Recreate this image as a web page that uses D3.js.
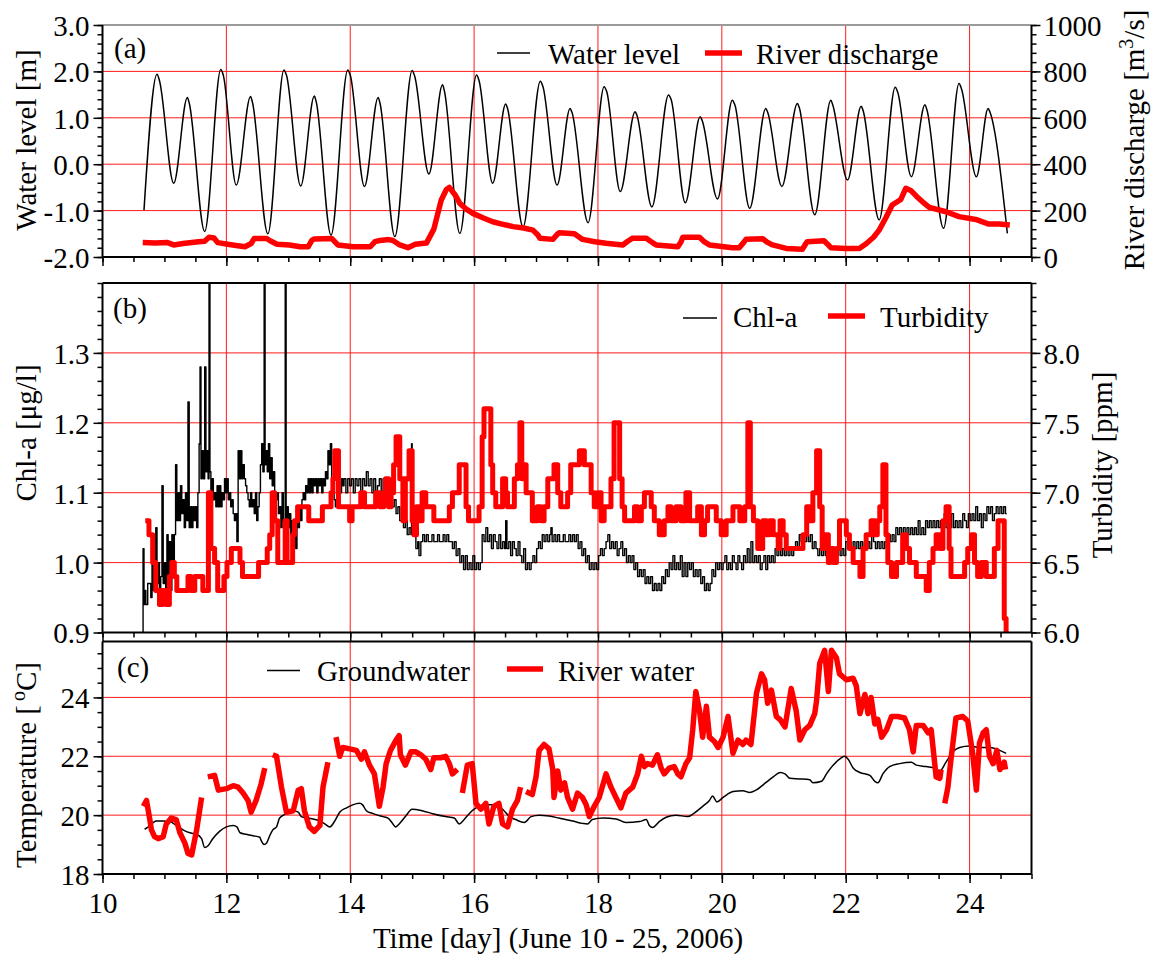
<!DOCTYPE html>
<html>
<head>
<meta charset="utf-8">
<script src="https://cdn.jsdelivr.net/npm/d3@7"></script>
<style>
  html, body { margin: 0; padding: 0; background: #fff; }
  svg { display: block; }
</style>
</head>
<body>
<svg id="chart" width="1155" height="956"></svg>
<script>
// ---- data: day of June 2006 ----
const waterLevel = [
  [10.67,-0.99],[10.88,1.94],[10.92,1.80],[11.15,-0.41],[11.37,1.44],[11.40,1.32],[11.65,-1.45],
  [11.91,2.04],[11.95,1.92],[12.16,-0.45],[12.39,1.46],[12.42,1.34],[12.67,-1.50],[12.93,2.03],
  [12.97,1.92],[13.20,-0.47],[13.42,1.47],[13.45,1.35],[13.69,-1.53],[13.96,2.03],[14.00,1.92],
  [14.23,-0.48],[14.45,1.44],[14.48,1.32],[14.72,-1.56],[15.00,2.02],[15.04,1.90],[15.27,-0.21],
  [15.49,1.71],[15.52,1.58],[15.77,-1.49],[16.04,1.92],[16.08,1.80],[16.30,-0.41],[16.51,1.30],
  [16.54,1.20],[16.79,-1.35],[17.07,1.79],[17.11,1.68],[17.34,-0.45],[17.55,1.20],[17.58,1.12],
  [17.84,-1.26],[18.10,1.67],[18.14,1.57],[18.36,-0.59],[18.60,1.13],[18.63,1.05],[18.87,-0.92],
  [19.14,1.49],[19.18,1.40],[19.41,-0.83],[19.65,1.02],[19.68,0.95],[19.93,-0.75],[20.17,1.38],
  [20.21,1.28],[20.45,-0.95],[20.71,1.20],[20.74,1.12],[20.97,-0.48],[21.22,1.31],[21.25,1.22],
  [21.50,-1.09],[21.76,1.38],[21.79,1.28],[22.03,-0.34],[22.25,1.25],[22.28,1.16],[22.54,-1.20],
  [22.80,1.66],[22.84,1.55],[23.06,-0.27],[23.28,1.28],[23.31,1.18],[23.58,-1.38],[23.83,1.74],
  [23.87,1.62],[24.11,-0.27],[24.30,1.20],[24.33,1.12],[24.61,-1.49]
];

const riverDischarge = [
  [10.65,62],[10.85,60],[11.05,62],[11.15,52],[11.30,58],[11.55,66],[11.65,68],[11.72,85],[11.80,82],
  [11.86,62],[12.10,52],[12.30,44],[12.40,58],[12.45,80],[12.65,80],[12.72,68],[12.82,55],[13.02,52],
  [13.19,44],[13.32,44],[13.38,72],[13.42,78],[13.70,80],[13.80,52],[14.05,44],[14.32,44],[14.40,66],
  [14.45,70],[14.62,75],[14.69,71],[14.80,52],[14.93,40],[15.05,55],[15.23,60],[15.35,120],[15.47,246],
  [15.55,290],[15.60,300],[15.70,265],[15.77,231],[15.88,205],[15.98,188],[16.15,168],[16.30,152],
  [16.45,142],[16.63,131],[16.80,125],[16.95,116],[17.03,95],[17.06,81],[17.27,76],[17.35,100],
  [17.38,105],[17.62,100],[17.70,85],[17.75,76],[17.95,66],[18.13,59],[18.40,52],[18.48,68],[18.56,81],
  [18.78,81],[18.88,62],[18.94,52],[19.29,44],[19.34,65],[19.37,85],[19.64,85],[19.72,65],[19.80,52],
  [20.17,40],[20.28,40],[20.35,62],[20.39,76],[20.66,79],[20.73,64],[20.82,52],[21.04,37],[21.30,33],
  [21.35,55],[21.38,66],[21.65,70],[21.72,52],[21.76,40],[22.00,37],[22.22,37],[22.33,57],[22.45,85],
  [22.54,116],[22.65,170],[22.75,224],[22.89,248],[22.97,296],[23.05,287],[23.15,260],[23.24,238],
  [23.35,214],[23.62,195],[23.83,174],[24.10,162],[24.31,142],[24.48,142],[24.65,138]
];

const chlA = [
  [10.65,0.90],[10.655,1.02],[10.67,0.94],[10.69,0.96],[10.70,0.94],[10.73,0.97],[10.76,0.97],[10.78,0.95],
  [10.80,1.04],[10.82,0.96],[10.84,1.00],[10.86,1.05],[10.88,0.97],[10.90,1.00],[10.92,0.96],[10.94,0.98],
  [10.96,1.11],[10.98,0.97],[11.00,1.00],[11.02,0.95],[11.04,1.04],[11.06,0.97],[11.08,1.03],[11.10,0.96],
  [11.12,1.04],[11.14,1.00],[11.16,1.04],[11.18,1.14],[11.20,1.06],[11.22,1.10],[11.24,1.06],[11.26,1.11],
  [11.28,1.07],[11.30,1.09],[11.32,1.05],[11.34,1.10],[11.36,1.06],[11.38,1.23],[11.40,1.05],[11.42,1.08],
  [11.44,1.05],[11.46,1.08],[11.48,1.06],[11.50,1.08],[11.52,1.05],[11.54,1.10],[11.56,1.17],[11.575,1.28],
  [11.59,1.12],[11.61,1.16],[11.63,1.12],[11.65,1.28],[11.67,1.13],[11.69,1.16],[11.705,1.12],[11.72,1.45],
  [11.735,1.13],[11.75,1.10],[11.77,1.12],[11.79,1.09],[11.81,1.10],[11.83,1.08],[11.85,1.11],[11.87,1.08],
  [11.89,1.11],[11.91,1.08],[11.93,1.10],[11.95,1.09],[11.97,1.12],[11.99,1.10],[12.01,1.12],[12.03,1.09],
  [12.05,1.10],[12.07,1.08],[12.09,1.09],[12.11,1.07],[12.13,1.06],[12.15,1.07],[12.17,1.03],[12.19,1.16],
  [12.21,1.12],[12.23,1.16],[12.25,1.12],[12.27,1.14],[12.29,1.12],[12.31,1.11],[12.33,1.10],[12.35,1.09],
  [12.37,1.08],[12.39,1.10],[12.41,1.08],[12.43,1.09],[12.45,1.07],[12.47,1.10],[12.49,1.06],[12.51,1.08],
  [12.53,1.10],[12.55,1.14],[12.57,1.17],[12.59,1.13],[12.61,1.45],[12.625,1.14],[12.64,1.16],[12.66,1.13],
  [12.68,1.17],[12.70,1.12],[12.72,1.15],[12.74,1.11],[12.76,1.13],[12.78,1.10],[12.80,1.09],[12.82,1.10],
  [12.84,1.07],[12.86,1.08],[12.88,1.05],[12.90,1.10],[12.92,1.06],[12.95,1.45],[12.965,1.04],[12.98,1.08],
  [13.00,1.05],[13.02,1.07],[13.04,1.04],[13.06,1.06],[13.08,1.03],[13.10,1.05],[13.12,1.02],[13.14,1.06],
  [13.16,1.05],[13.18,1.08],[13.20,1.06],[13.22,1.09],[13.24,1.10],[13.26,1.09],[13.28,1.11],[13.30,1.10],
  [13.32,1.12],[13.34,1.10],[13.36,1.12],[13.38,1.10],[13.40,1.12],[13.42,1.11],[13.44,1.12],[13.46,1.10],
  [13.48,1.12],[13.50,1.11],[13.52,1.12],[13.54,1.10],[13.56,1.12],[13.58,1.11],[13.60,1.13],[13.62,1.12],
  [13.64,1.16],[13.66,1.14],[13.68,1.17],[13.70,1.12],[13.72,1.10],[13.74,1.09],[13.76,1.08],[13.78,1.10],
  [13.80,1.09],[13.82,1.11],[13.84,1.10],[13.86,1.12],[13.88,1.11],[13.90,1.12],[13.93,1.10],[13.96,1.12],
  [13.99,1.11],[14.02,1.12],[14.05,1.10],[14.08,1.12],[14.11,1.11],[14.14,1.12],[14.17,1.10],[14.20,1.12],
  [14.23,1.11],[14.26,1.13],[14.29,1.11],[14.32,1.12],[14.35,1.10],[14.38,1.12],[14.41,1.10],[14.44,1.11],
  [14.47,1.12],[14.50,1.10],[14.53,1.12],[14.56,1.10],[14.59,1.11],[14.62,1.09],[14.65,1.11],[14.68,1.08],
  [14.71,1.09],[14.74,1.07],[14.77,1.08],[14.80,1.06],[14.83,1.07],[14.86,1.05],[14.89,1.06],[14.92,1.04],
  [14.95,1.05],[14.98,1.04],[14.99,1.17],[15.00,1.04],[15.03,1.05],[15.06,1.02],[15.09,1.03],[15.11,1.01],
  [15.14,1.03],[15.17,1.04],[15.20,1.03],[15.23,1.04],[15.26,1.03],[15.29,1.03],[15.32,1.04],[15.35,1.03],
  [15.38,1.03],[15.41,1.04],[15.44,1.03],[15.47,1.03],[15.50,1.04],[15.53,1.03],[15.56,1.04],[15.59,1.03],
  [15.62,1.03],[15.65,1.02],[15.68,1.03],[15.71,1.01],[15.74,1.02],[15.77,1.00],[15.80,1.01],[15.83,0.99],
  [15.86,1.01],[15.89,0.99],[15.92,1.00],[15.95,0.99],[15.98,1.01],[16.01,0.99],[16.04,1.00],[16.07,0.99],
  [16.10,1.00],[16.13,1.04],[16.16,1.03],[16.19,1.05],[16.22,1.03],[16.25,1.04],[16.28,1.02],[16.31,1.04],
  [16.34,1.03],[16.37,1.02],[16.40,1.04],[16.43,1.02],[16.46,1.03],[16.49,1.02],[16.51,1.06],[16.53,1.02],
  [16.56,1.03],[16.59,1.01],[16.62,1.03],[16.65,1.02],[16.68,1.01],[16.71,1.03],[16.74,1.01],[16.77,1.00],
  [16.80,1.02],[16.83,0.99],[16.86,1.00],[16.89,0.99],[16.92,1.00],[16.95,1.01],[16.98,1.00],[17.01,1.02],
  [17.04,1.03],[17.07,1.02],[17.10,1.04],[17.13,1.03],[17.16,1.04],[17.19,1.03],[17.22,1.04],[17.24,1.05],
  [17.26,1.03],[17.29,1.04],[17.32,1.03],[17.35,1.04],[17.38,1.03],[17.41,1.03],[17.44,1.04],[17.47,1.03],
  [17.50,1.03],[17.53,1.04],[17.56,1.03],[17.59,1.04],[17.62,1.03],[17.65,1.04],[17.68,1.02],[17.71,1.03],
  [17.74,1.01],[17.77,1.02],[17.80,1.00],[17.83,1.01],[17.86,0.99],[17.89,1.00],[17.92,0.99],[17.95,1.00],
  [17.98,0.99],[18.01,1.01],[18.04,1.02],[18.07,1.01],[18.10,1.02],[18.13,1.03],[18.16,1.04],[18.19,1.02],
  [18.22,1.03],[18.25,1.02],[18.28,1.03],[18.31,1.01],[18.34,1.02],[18.37,1.03],[18.40,1.01],[18.43,1.02],
  [18.46,1.00],[18.49,1.01],[18.52,1.00],[18.55,1.01],[18.58,0.99],[18.61,1.00],[18.64,0.98],[18.67,0.99],
  [18.70,0.98],[18.73,0.99],[18.76,0.97],[18.79,0.98],[18.82,0.97],[18.85,0.98],[18.88,0.96],[18.91,0.97],
  [18.94,0.96],[18.97,0.97],[19.00,0.96],[19.03,0.98],[19.06,0.97],[19.09,0.99],[19.12,0.98],[19.15,1.00],
  [19.18,0.99],[19.21,1.01],[19.24,0.99],[19.27,1.00],[19.30,0.99],[19.33,1.01],[19.36,0.98],[19.39,1.00],
  [19.42,0.98],[19.45,1.00],[19.48,0.99],[19.51,1.00],[19.54,0.98],[19.57,0.99],[19.60,0.98],[19.63,0.99],
  [19.66,0.97],[19.69,0.98],[19.72,0.96],[19.75,0.97],[19.78,0.96],[19.81,0.97],[19.84,0.99],[19.87,0.98],
  [19.90,1.00],[19.93,0.99],[19.96,1.00],[19.99,0.99],[20.02,1.00],[20.05,1.01],[20.08,0.99],[20.11,1.00],
  [20.14,0.99],[20.17,1.01],[20.20,1.00],[20.23,0.99],[20.26,1.01],[20.29,1.00],[20.32,0.99],[20.35,1.01],
  [20.38,1.00],[20.41,1.02],[20.44,1.00],[20.47,1.03],[20.50,1.00],[20.53,1.01],[20.56,1.00],[20.59,1.01],
  [20.62,0.99],[20.65,1.00],[20.68,1.01],[20.71,0.99],[20.74,1.01],[20.77,1.00],[20.80,1.01],[20.83,1.00],
  [20.86,1.02],[20.89,1.01],[20.92,1.02],[20.95,1.01],[20.98,1.02],[21.01,1.01],[21.04,1.02],[21.07,1.01],
  [21.10,1.02],[21.13,1.01],[21.16,1.02],[21.19,1.03],[21.22,1.02],[21.25,1.04],[21.28,1.03],[21.31,1.04],
  [21.34,1.03],[21.37,1.04],[21.40,1.03],[21.43,1.04],[21.46,1.02],[21.49,1.03],[21.52,1.02],[21.55,1.01],
  [21.58,1.02],[21.61,1.01],[21.64,1.03],[21.67,1.01],[21.70,1.02],[21.73,1.01],[21.76,1.02],[21.79,1.01],
  [21.82,1.02],[21.85,1.01],[21.88,1.02],[21.91,1.01],[21.94,1.02],[21.97,1.01],[22.00,1.03],[22.03,1.02],
  [22.06,1.03],[22.09,1.02],[22.12,1.03],[22.15,1.02],[22.18,1.03],[22.21,1.02],[22.24,1.03],[22.27,1.02],
  [22.30,1.03],[22.33,1.02],[22.36,1.03],[22.39,1.02],[22.42,1.04],[22.45,1.03],[22.48,1.02],[22.51,1.03],
  [22.54,1.02],[22.57,1.03],[22.60,1.02],[22.63,1.03],[22.66,1.02],[22.69,1.04],[22.72,1.03],[22.75,1.04],
  [22.78,1.03],[22.81,1.05],[22.84,1.04],[22.87,1.05],[22.90,1.04],[22.93,1.05],[22.96,1.04],[22.99,1.05],
  [23.02,1.04],[23.05,1.05],[23.08,1.04],[23.11,1.05],[23.14,1.04],[23.17,1.06],[23.20,1.04],[23.23,1.05],
  [23.26,1.04],[23.29,1.06],[23.32,1.05],[23.35,1.06],[23.38,1.05],[23.41,1.06],[23.44,1.05],[23.47,1.06],
  [23.50,1.05],[23.53,1.06],[23.56,1.05],[23.59,1.07],[23.62,1.05],[23.65,1.06],[23.68,1.05],[23.71,1.07],
  [23.74,1.05],[23.77,1.06],[23.80,1.05],[23.83,1.06],[23.86,1.05],[23.89,1.07],[23.92,1.06],[23.95,1.05],
  [23.98,1.07],[24.01,1.06],[24.04,1.07],[24.07,1.06],[24.10,1.08],[24.13,1.06],[24.16,1.07],[24.19,1.05],
  [24.22,1.07],[24.25,1.06],[24.28,1.08],[24.31,1.07],[24.34,1.08],[24.37,1.06],[24.40,1.07],[24.43,1.08],
  [24.46,1.07],[24.49,1.08],[24.52,1.07],[24.55,1.08],[24.58,1.07],[24.60,1.07]
];

const turbidity = [
  [10.69,6.8],[10.75,6.7],[10.81,6.5],[10.86,6.3],[10.92,6.2],[10.97,6.3],[11.03,6.2],[11.08,6.4],[11.12,6.5],
  [11.16,6.4],[11.20,6.3],[11.35,6.3],[11.38,6.4],[11.43,6.3],[11.49,6.4],[11.57,6.4],[11.62,6.3],[11.69,6.3],
  [11.71,7.0],[11.75,6.6],[11.81,6.5],[11.86,6.3],[11.92,6.3],[11.96,6.4],[12.01,6.5],[12.08,6.6],[12.17,6.6],
  [12.22,6.5],[12.26,6.4],[12.49,6.4],[12.52,6.5],[12.62,6.5],[12.66,6.6],[12.70,6.7],[12.74,7.0],[12.78,6.8],
  [12.83,6.5],[12.93,6.5],[12.95,6.8],[12.98,6.5],[13.04,6.5],[13.07,6.7],[13.10,6.8],[13.15,6.9],[13.30,6.9],
  [13.33,6.8],[13.51,6.8],[13.55,6.9],[13.65,6.9],[13.69,7.0],[13.72,7.1],[13.75,7.3],[13.81,6.9],[13.95,6.9],
  [13.99,6.8],[14.03,6.9],[14.14,6.9],[14.17,7.0],[14.23,6.9],[14.37,6.9],[14.41,7.0],[14.48,6.9],[14.54,7.0],
  [14.57,7.1],[14.62,6.9],[14.66,7.0],[14.70,7.2],[14.74,7.4],[14.80,7.1],[14.85,6.8],[14.89,7.1],[14.95,7.3],
  [15.00,6.8],[15.03,6.7],[15.07,6.9],[15.11,6.8],[15.16,7.0],[15.22,6.9],[15.30,6.9],[15.35,6.8],[15.54,6.8],
  [15.60,6.9],[15.65,7.0],[15.76,7.2],[15.87,6.9],[15.91,6.8],[16.08,6.9],[16.13,7.4],[16.16,7.6],[16.27,7.2],
  [16.30,7.0],[16.35,6.9],[16.46,7.1],[16.51,7.0],[16.54,6.9],[16.65,7.1],[16.70,7.2],[16.74,7.5],[16.77,7.1],
  [16.80,7.2],[16.84,7.0],[16.94,6.8],[17.02,6.9],[17.08,6.8],[17.13,6.9],[17.19,7.1],[17.29,7.2],[17.35,7.0],
  [17.40,6.9],[17.51,7.0],[17.56,7.2],[17.70,7.3],[17.78,7.2],[17.89,7.0],[17.94,6.9],[17.99,7.0],[18.05,6.8],
  [18.10,6.9],[18.21,7.1],[18.26,7.5],[18.35,7.1],[18.39,6.9],[18.43,6.8],[18.59,6.9],[18.64,6.8],[18.70,6.9],
  [18.75,7.0],[18.86,6.9],[18.91,6.8],[18.99,6.7],[19.07,6.8],[19.13,6.9],[19.18,6.8],[19.26,6.9],[19.34,6.8],
  [19.42,7.0],[19.48,6.8],[19.61,6.9],[19.67,6.7],[19.72,6.8],[19.77,6.9],[19.91,6.8],[19.99,6.7],[20.07,6.8],
  [20.18,6.9],[20.29,6.8],[20.37,6.9],[20.42,7.5],[20.46,6.9],[20.51,6.8],[20.58,6.6],[20.66,6.8],[20.72,6.7],
  [20.77,6.8],[20.83,6.7],[20.91,6.6],[20.94,6.8],[20.99,6.7],[21.04,6.6],[21.31,6.7],[21.37,6.9],[21.42,6.8],
  [21.47,7.0],[21.53,7.3],[21.58,6.9],[21.62,6.6],[21.66,6.7],[21.72,6.5],[21.74,6.6],[21.80,6.5],[21.85,6.6],
  [21.90,6.8],[22.01,6.7],[22.06,6.6],[22.12,6.5],[22.23,6.4],[22.28,6.6],[22.33,6.7],[22.41,6.8],[22.47,6.7],
  [22.51,6.8],[22.55,6.9],[22.60,7.2],[22.65,6.7],[22.68,6.5],[22.74,6.4],[22.82,6.5],[22.92,6.7],[22.98,6.6],
  [23.03,6.5],[23.14,6.4],[23.30,6.3],[23.35,6.5],[23.41,6.6],[23.46,6.7],[23.52,6.6],[23.57,6.8],[23.62,6.9],
  [23.67,6.6],[23.70,6.4],[23.92,6.5],[23.97,6.6],[24.03,6.7],[24.08,6.5],[24.13,6.4],[24.19,6.5],[24.27,6.4],
  [24.40,6.6],[24.46,6.8],[24.56,6.1],[24.59,6.0],[24.61,6.0]
];

const groundwaterTemp = [
  [10.68,19.52],[10.74,19.6],[10.82,19.75],[10.87,19.8],[10.98,19.8],[11.09,19.78],[11.19,19.65],[11.30,19.5],
  [11.41,19.4],[11.52,19.35],[11.60,19.2],[11.65,18.9],[11.70,18.95],[11.78,19.2],[11.89,19.45],[12.0,19.6],
  [12.11,19.65],[12.17,19.6],[12.22,19.4],[12.32,19.35],[12.43,19.3],[12.54,19.25],[12.56,19.15],[12.61,19.0],
  [12.65,19.05],[12.70,19.3],[12.75,19.5],[12.81,19.6],[12.86,19.9],[12.97,20.05],[13.08,20.15],[13.16,20.1],
  [13.21,19.95],[13.32,19.9],[13.43,19.85],[13.51,19.8],[13.59,19.7],[13.67,19.6],[13.75,19.8],[13.83,20.1],
  [13.94,20.25],[14.04,20.35],[14.15,20.4],[14.20,20.35],[14.26,20.15],[14.37,20.05],[14.53,19.95],[14.61,19.9],
  [14.69,19.7],[14.73,19.6],[14.79,19.7],[14.89,19.95],[15.0,20.2],[15.16,20.15],[15.33,20.05],[15.54,19.95],
  [15.68,19.9],[15.76,19.7],[15.84,19.85],[15.92,20.05],[16.03,20.25],[16.19,20.35],[16.32,20.35],[16.46,20.2],
  [16.57,19.95],[16.67,19.85],[16.81,19.75],[16.92,19.95],[17.05,20.0],[17.21,19.97],[17.37,19.9],[17.59,19.8],
  [17.75,19.72],[17.83,19.7],[17.91,19.85],[18.08,19.9],[18.29,19.87],[18.45,19.75],[18.67,19.78],[18.78,19.85],
  [18.83,19.65],[18.88,19.58],[18.99,19.78],[19.10,19.93],[19.26,20.0],[19.45,19.95],[19.56,20.08],[19.69,20.3],
  [19.80,20.5],[19.85,20.65],[19.92,20.45],[20.02,20.6],[20.18,20.8],[20.34,20.83],[20.45,20.77],[20.55,20.85],
  [20.72,21.12],[20.83,21.3],[20.94,21.45],[21.02,21.4],[21.10,21.25],[21.26,21.23],[21.42,21.2],[21.47,21.1],
  [21.61,21.15],[21.69,21.4],[21.80,21.7],[21.90,21.9],[21.98,22.0],[22.04,21.9],[22.12,21.6],[22.23,21.45],
  [22.39,21.35],[22.47,21.15],[22.52,21.1],[22.60,21.4],[22.71,21.65],[22.87,21.75],[23.06,21.8],[23.14,21.7],
  [23.30,21.65],[23.44,21.6],[23.52,21.5],[23.62,21.8],[23.73,22.15],[23.84,22.3],[24.00,22.35],[24.16,22.3],
  [24.32,22.3],[24.43,22.25],[24.59,22.1]
];

// null entries mark gaps in the river-water record
const riverWaterTemp = [
  [10.66,20.3],[10.71,20.5],[10.76,19.9],[10.79,19.5],[10.84,19.27],[10.90,19.2],[10.98,19.27],[11.03,19.7],
  [11.11,19.9],[11.19,19.85],[11.25,19.4],[11.33,19.05],[11.38,18.7],[11.44,18.65],[11.52,19.5],[11.60,20.6],
  [11.65,null],
  [11.70,21.3],[11.81,21.35],[11.87,20.85],[12.0,20.9],[12.11,21.0],[12.19,20.95],[12.27,20.75],[12.35,20.5],
  [12.40,20.1],[12.48,20.5],[12.56,21.05],[12.62,21.6],
  [12.70,null],
  [12.75,22.05],[12.81,22.0],[12.89,20.95],[12.97,20.1],[13.08,20.15],[13.16,20.85],[13.21,20.9],[13.26,20.15],
  [13.34,19.6],[13.42,19.45],[13.51,19.65],[13.56,20.95],[13.64,21.8],
  [13.70,null],
  [13.77,22.65],[13.83,22.0],[13.88,22.3],[13.99,22.25],[14.10,22.2],[14.18,21.9],[14.23,22.15],[14.31,21.7],
  [14.39,21.4],[14.47,20.3],[14.53,20.95],[14.58,21.75],[14.65,22.2],[14.74,22.55],[14.79,22.7],[14.81,22.05],
  [14.89,21.7],[14.98,22.15],[15.06,22.15],[15.14,22.05],[15.22,21.9],[15.30,21.55],[15.35,21.95],[15.46,21.95],
  [15.54,22.0],[15.60,21.75],[15.65,21.4],[15.73,21.55],
  [15.77,null],
  [15.81,20.75],[15.89,21.7],[15.97,21.75],[16.03,20.4],[16.11,20.2],[16.19,20.4],[16.24,19.7],[16.32,20.3],
  [16.40,20.4],[16.46,19.7],[16.54,19.6],[16.62,20.2],[16.70,20.5],[16.75,20.95],
  [16.80,null],
  [16.84,20.8],[16.94,20.7],[17.0,21.3],[17.05,22.2],[17.13,22.4],[17.21,22.25],[17.27,21.55],[17.29,20.6],
  [17.35,21.5],[17.40,20.85],[17.46,21.1],[17.51,20.6],[17.59,20.2],[17.67,20.75],[17.75,20.6],[17.81,20.35],
  [17.86,19.95],[17.94,20.3],[18.02,20.6],[18.13,21.4],[18.21,20.95],[18.29,20.6],[18.37,20.25],[18.45,20.75],
  [18.56,20.95],[18.64,21.4],[18.70,22.0],[18.75,21.65],[18.80,21.75],[18.88,21.7],[18.96,22.05],[19.02,21.6],
  [19.07,21.4],[19.15,21.6],[19.23,21.65],[19.29,21.4],[19.34,21.3],[19.42,21.75],[19.48,21.95],[19.53,22.9],
  [19.58,24.2],[19.64,23.55],[19.69,22.65],[19.75,23.7],[19.80,22.65],[19.88,22.5],[19.94,22.3],[20.02,22.65],
  [20.10,23.35],[20.18,22.1],[20.26,22.55],[20.34,22.4],[20.39,22.55],[20.47,22.4],[20.56,24.15],[20.64,24.8],
  [20.69,24.6],[20.74,23.8],[20.80,24.25],[20.88,23.35],[20.94,23.25],[21.02,23.0],[21.12,24.3],[21.20,23.55],
  [21.26,22.55],[21.34,22.9],[21.42,23.05],[21.50,23.45],[21.53,23.9],[21.58,25.15],[21.66,25.6],[21.72,24.2],
  [21.77,25.6],[21.85,25.35],[21.90,24.8],[22.01,24.6],[22.12,24.65],[22.17,24.4],[22.23,23.45],[22.31,24.1],
  [22.36,23.45],[22.41,24.0],[22.47,23.1],[22.52,23.25],[22.58,22.65],[22.66,22.9],[22.74,23.35],[22.84,23.35],
  [22.95,23.3],[23.03,22.9],[23.09,22.15],[23.14,23.05],[23.25,23.05],[23.33,22.8],[23.38,22.9],[23.46,21.3],
  [23.52,21.25],[23.54,21.55],
  [23.57,null],
  [23.60,20.4],[23.65,20.95],[23.70,21.9],[23.78,23.3],[23.89,23.35],[23.97,23.2],[24.05,22.1],[24.11,20.85],
  [24.16,22.45],[24.22,22.8],[24.27,22.9],[24.32,22.0],[24.38,21.75],[24.44,22.2],[24.49,21.55],[24.56,21.8],
  [24.58,21.55]
];

// ---- tick values ----
const dayMajor = [10, 12, 14, 16, 18, 20, 22, 24];
const dayMinor = d3.range(10, 25.01, 0.5);
const levelMajor = [-2, -1, 0, 1, 2, 3];
const levelMinor = d3.range(-2, 3.001, 0.2);
const dischargeMajor = [0, 200, 400, 600, 800, 1000];
const dischargeMinor = d3.range(0, 1000.1, 40);
const chlMajor = [0.9, 1.0, 1.1, 1.2, 1.3];
const chlMinor = d3.range(0.9, 1.401, 0.02);
const turbMajor = [6.0, 6.5, 7.0, 7.5, 8.0];
const turbMinor = d3.range(6.0, 8.501, 0.1);
const tempMajor = [18, 20, 22, 24];
const tempMinor = d3.range(18, 25.9, 0.5);

// ---- layout ----
const FONT = "'Liberation Serif', 'Times New Roman', serif";
const FS = 29;
const svg = d3.select("#chart");
const left = 102.5, right = 1031.5;
const x = d3.scaleLinear().domain([10, 25]).range([left, right]);

const panels = {
  a: { top: 25, bottom: 257 },
  b: { top: 283, bottom: 632.5 },
  c: { top: 641.5, bottom: 874 }
};

const yLevel = d3.scaleLinear().domain([-2, 3]).range([panels.a.bottom, panels.a.top]);
const yDis = d3.scaleLinear().domain([0, 1000]).range([panels.a.bottom, panels.a.top]);
const yChl = d3.scaleLinear().domain([0.9, 1.4]).range([panels.b.bottom, panels.b.top]);
const yTurb = d3.scaleLinear().domain([6.0, 8.5]).range([panels.b.bottom, panels.b.top]);
const yTemp = d3.scaleLinear().domain([18, 25.9]).range([panels.c.bottom, panels.c.top]);

const defs = svg.append("defs");
Object.entries(panels).forEach(([k, p]) => {
  defs.append("clipPath").attr("id", "clip-" + k)
    .append("rect").attr("x", left).attr("y", p.top)
    .attr("width", right - left).attr("height", p.bottom - p.top);
});

const fmt1 = d => (d < 0 ? "-" : "") + Math.abs(d).toFixed(1);

function grid(p, yScale, yVals) {
  const g = svg.append("g").attr("stroke", "#ff1a1a").attr("stroke-width", 1).attr("fill", "none");
  dayMajor.filter(d => d > 10).forEach(d => {
    g.append("line").attr("x1", x(d)).attr("x2", x(d)).attr("y1", p.top).attr("y2", p.bottom);
  });
  yVals.forEach(v => {
    g.append("line").attr("x1", left).attr("x2", right).attr("y1", yScale(v)).attr("y2", yScale(v));
  });
}

function styleAxis(g, withText) {
  g.select(".domain").remove();
  g.selectAll(".tick line").attr("stroke", "#000").attr("stroke-width", 1.5);
  if (withText) {
    g.selectAll("text").attr("font-family", FONT).attr("font-size", FS).attr("fill", "#000");
  }
}

function yAxis(scale, side, majors, minors, fmt) {
  const make = side === "left" ? d3.axisLeft : d3.axisRight;
  const xpos = side === "left" ? left : right;
  const gMin = svg.append("g").attr("transform", `translate(${xpos},0)`)
    .call(make(scale).tickValues(minors).tickSize(5).tickSizeOuter(0).tickFormat(""));
  styleAxis(gMin, false);
  const gMaj = svg.append("g").attr("transform", `translate(${xpos},0)`)
    .call(make(scale).tickValues(majors).tickSize(9).tickSizeOuter(0).tickPadding(side === "left" ? 4 : 3).tickFormat(fmt));
  styleAxis(gMaj, true);
  gMaj.selectAll("text").attr("dy", "0.36em");
}

function xAxis(p, labels) {
  const gMin = svg.append("g").attr("transform", `translate(0,${p.bottom})`)
    .call(d3.axisBottom(x).tickValues(dayMinor).tickSize(5).tickSizeOuter(0).tickFormat(""));
  styleAxis(gMin, false);
  const gMaj = svg.append("g").attr("transform", `translate(0,${p.bottom})`)
    .call(d3.axisBottom(x).tickValues(dayMajor).tickSize(9).tickSizeOuter(0).tickPadding(9)
      .tickFormat(labels ? d3.format("d") : ""));
  styleAxis(gMaj, labels);
}

function frame(p, topColor) {
  const g = svg.append("g").attr("stroke-width", 2).attr("fill", "none");
  g.append("line").attr("x1", left).attr("x2", right).attr("y1", p.top).attr("y2", p.top)
    .attr("stroke", topColor);
  g.append("line").attr("x1", left).attr("x2", right).attr("y1", p.bottom).attr("y2", p.bottom).attr("stroke", "#000");
  g.append("line").attr("x1", left).attr("x2", left).attr("y1", p.top).attr("y2", p.bottom).attr("stroke", "#000");
  g.append("line").attr("x1", right).attr("x2", right).attr("y1", p.top).attr("y2", p.bottom).attr("stroke", "#000");
}

function plotLine(panelKey, data, yScale, color, width, curve) {
  const line = d3.line()
    .defined(d => d[1] !== null)
    .x(d => x(d[0])).y(d => yScale(d[1]))
    .curve(curve || d3.curveLinear);
  svg.append("path").datum(data)
    .attr("clip-path", `url(#clip-${panelKey})`)
    .attr("fill", "none").attr("stroke", color).attr("stroke-width", width)
    .attr("stroke-linejoin", "round").attr("stroke-linecap", "butt")
    .attr("d", line);
}

function addText(txt, xp, yp, anchor) {
  return svg.append("text").attr("x", xp).attr("y", yp)
    .attr("font-family", FONT).attr("font-size", FS).attr("fill", "#000")
    .attr("text-anchor", anchor || "start").text(txt);
}

function legendItem(x1, x2, ly, color, width, label, tx, ty) {
  svg.append("line").attr("x1", x1).attr("x2", x2).attr("y1", ly).attr("y2", ly)
    .attr("stroke", color).attr("stroke-width", width);
  addText(label, tx, ty);
}

function rotatedLabel(xp, yp, parts) {
  const t = svg.append("text").attr("transform", `translate(${xp},${yp}) rotate(-90)`)
    .attr("font-family", FONT).attr("font-size", FS).attr("fill", "#000")
    .attr("text-anchor", "middle");
  parts.forEach(pt => {
    const s = t.append("tspan").text(pt.t);
    if (pt.sup) s.attr("font-size", 20).attr("dy", -11).attr("dx", pt.dx || 0);
    if (pt.after) s.attr("dy", 11);
  });
}

// ---- panel (a): water level and river discharge ----
grid(panels.a, yLevel, [-1, 0, 1, 2, 3]);
plotLine("a", waterLevel, yLevel, "#000", 1.5, d3.curveMonotoneX);
plotLine("a", riverDischarge, yDis, "#ff0000", 5.5);
frame(panels.a, "#9a9a9a");
yAxis(yLevel, "left", levelMajor, levelMinor, fmt1);
yAxis(yDis, "right", dischargeMajor, dischargeMinor, d3.format("d"));
xAxis(panels.a, false);
addText("(a)", 114, 58);
legendItem(497, 530, 53, "#000", 1.5, "Water level", 548, 63.5);
legendItem(705, 742, 53, "#ff0000", 5.5, "River discharge", 756, 63.5);
rotatedLabel(36, 140, [{ t: "Water level [m]" }]);
rotatedLabel(1144, 140, [{ t: "River discharge [m" }, { t: "3", sup: true }, { t: "/s]", after: true }]);

// ---- panel (b): chlorophyll-a and turbidity ----
grid(panels.b, yChl, [1.0, 1.1, 1.2, 1.3]);
plotLine("b", chlA, yChl, "#000", 1.4, d3.curveStepAfter);
plotLine("b", turbidity, yTurb, "#ff0000", 5, d3.curveStepAfter);
frame(panels.b, "#000");
yAxis(yChl, "left", chlMajor, chlMinor, d => d.toFixed(1));
yAxis(yTurb, "right", turbMajor, turbMinor, d => d.toFixed(1));
xAxis(panels.b, false);
addText("(b)", 113, 318);
legendItem(683, 717, 318, "#000", 1.5, "Chl-a", 733, 327);
legendItem(828, 865, 316, "#ff0000", 5.5, "Turbidity", 880, 327);
rotatedLabel(36, 433, [{ t: "Chl-a [μg/l]" }]);
rotatedLabel(1112, 465, [{ t: "Turbidity [ppm]" }]);

// ---- panel (c): groundwater and river water temperature ----
grid(panels.c, yTemp, [20, 22, 24]);
plotLine("c", groundwaterTemp, yTemp, "#000", 1.5, d3.curveMonotoneX);
plotLine("c", riverWaterTemp, yTemp, "#ff0000", 5.5);
frame(panels.c, "#000");
yAxis(yTemp, "left", tempMajor, tempMinor, d3.format("d"));
xAxis(panels.c, true);
addText("(c)", 117, 677);
legendItem(267, 300, 670.5, "#000", 1.5, "Groundwater", 317, 680.5);
legendItem(507, 543, 669, "#ff0000", 5.5, "River water", 558, 680.5);
rotatedLabel(36, 765, [{ t: "Temperature [" }, { t: "o", sup: true, dx: 4 }, { t: "C]", after: true }]);

// shared time axis title
addText("Time [day] (June 10 - 25, 2006)", 558, 948, "middle");
</script>
</body>
</html>
